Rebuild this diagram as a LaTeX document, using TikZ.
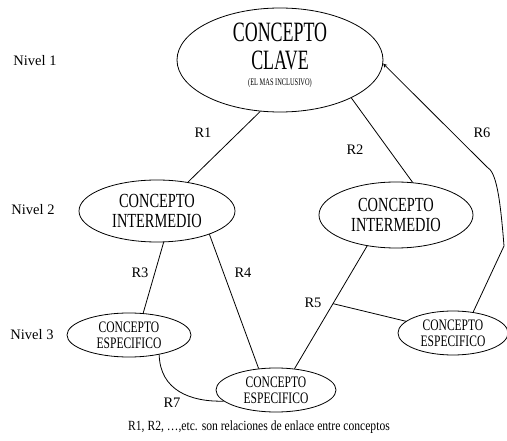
\documentclass[tikz,border=0pt]{standalone}
\usepackage{fontspec}
\setmainfont{Liberation Serif}
\newfontfamily\cfont[FakeStretch=0.72]{Liberation Serif}
\newfontfamily\tfont[FakeStretch=0.64]{Liberation Serif}
\newfontfamily\nfont[FakeStretch=0.83]{Liberation Serif}
\usepackage{tikz}
\usetikzlibrary{calc,arrows,shapes.geometric}

\begin{document}
\begin{tikzpicture}[x=1pt,y=-1pt,line width=0.8pt,
    concepto/.style={draw,ellipse,inner sep=0pt,align=center,font=\cfont},
    rel/.style={font=\fontsize{14.5}{16}\selectfont}]
                      \useasboundingbox (0,0) rectangle (507,441);
                      % conceptos
                      \node[concepto,minimum width=206,minimum height=94,text depth=11pt,font=\tfont\fontsize{28}{28}\selectfont] (clave) at (280,60)
                          {CONCEPTO\\CLAVE\\[-12pt] \fontsize{10}{11}\selectfont (EL MAS INCLUSIVO)};
                      \node[concepto,minimum width=156,minimum height=62,font=\cfont\fontsize{20}{20}\selectfont] (interA) at (157,211) {CONCEPTO\\INTERMEDIO};
                      \node[concepto,minimum width=154,minimum height=66,font=\cfont\fontsize{20}{20}\selectfont] (interB) at (396,215) {CONCEPTO\\INTERMEDIO};
                      \node[concepto,minimum width=124,minimum height=44,font=\cfont\fontsize{16}{16}\selectfont] (espA) at (129,335) {CONCEPTO\\ESPECIFICO};
                      \node[concepto,minimum width=120,minimum height=44,font=\cfont\fontsize{16}{16}\selectfont] (espB) at (276,390) {CONCEPTO\\ESPECIFICO};
                      \node[concepto,minimum width=110,minimum height=44,font=\cfont\fontsize{16}{16}\selectfont] (espC) at (453,333) {CONCEPTO\\ESPECIFICO};
                      % niveles
                      \node[rel] (nivel1) at (35,61) {Nivel 1};
                      \node[rel] (nivel2) at (33,210) {Nivel 2};
                      \node[rel] (nivel3) at (32,335) {Nivel 3};
                      % relaciones
                      \draw (clave.249) -- (interA.43);
                      \draw (clave.332) -- (interB.63);
                      \draw (interA.282) -- (espA.57);
                      \draw (interA.336) -- (espB.129);
                      \draw (interB.227) -- coordinate[pos=0.47] (enlace) (espB.49);
                      \draw (enlace) -- (espC.166);
                      \draw (espA.327) .. controls (160,390) and (190,402) .. (espB.192);
                      \draw[-stealth] (espC.46) -- (504,246) .. controls (500,195) and (496,172) .. (487,167) -- (clave.358);
                      \node[rel] (r1) at (203,133) {R1};
                      \node[rel] (r2) at (355,150) {R2};
                      \node[rel] (r6) at (482,133) {R6};
                      \node[rel] (r3) at (140,273) {R3};
                      \node[rel] (r4) at (243,273) {R4};
                      \node[rel] (r5) at (313,303) {R5};
                      \node[rel] (r7) at (172,403) {R7};
                      \node[font=\nfont\fontsize{14}{16}\selectfont] (nota) at (259,427) {R1, R2, \dots,etc. son relaciones de enlace entre conceptos};
                  \end{tikzpicture}
\end{document}
